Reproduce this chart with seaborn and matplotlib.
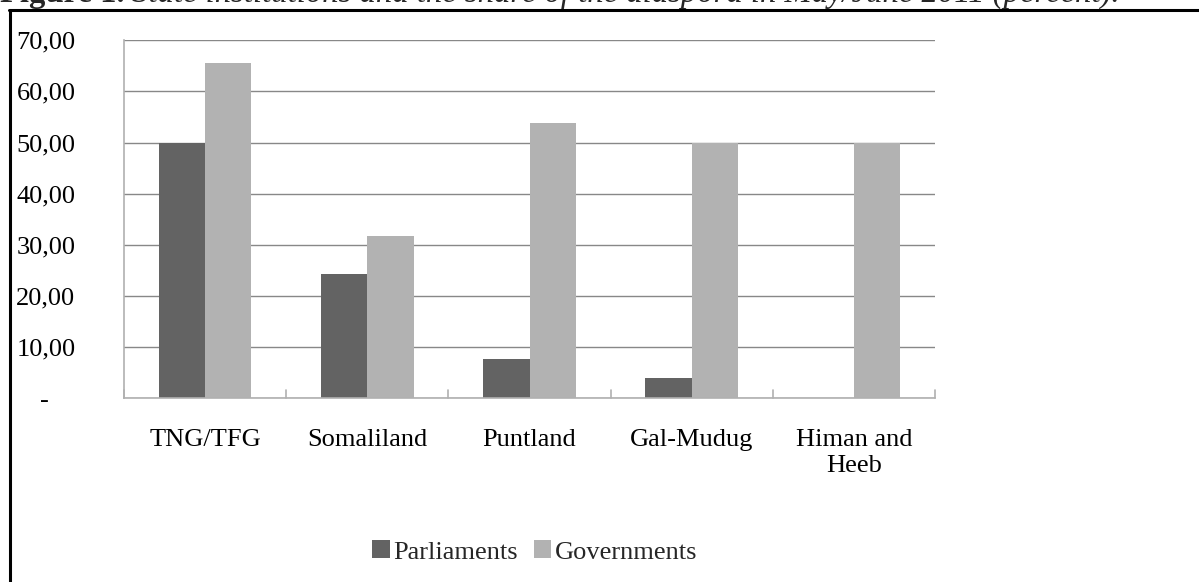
import matplotlib
matplotlib.use("Agg")
import matplotlib.pyplot as plt
import seaborn as sns
import pandas as pd
from matplotlib.lines import Line2D
from matplotlib.patches import Patch

regions = ["TNG/TFG", "Somaliland", "Puntland", "Gal-Mudug", "Himan and Heeb"]
region_labels = ["TNG/TFG", "Somaliland", "Puntland", "Gal-Mudug", "Himan and\nHeeb"]
parliaments = [50.0, 24.3, 7.6, 3.9, 0.0]
governments = [65.5, 31.7, 53.8, 50.0, 50.0]
series_names = ["Parliaments", "Governments"]
y_ticks = [0, 10, 20, 30, 40, 50, 60, 70]
y_tick_labels = ["-    ", "10,00", "20,00", "30,00", "40,00", "50,00", "60,00", "70,00"]

colors = ["#636363", "#b2b2b2"]

df = pd.DataFrame({
    "Region": regions * 2,
    "Value": parliaments + governments,
    "Series": [series_names[0]] * len(regions) + [series_names[1]] * len(regions),
})

sns.set_theme(style="white")
plt.rcParams["font.family"] = ["Liberation Serif", "DejaVu Serif"]

W, H = 1199, 582
fig = plt.figure(figsize=(W / 100, H / 100), dpi=100)
ax = fig.add_axes([124 / W, 1 - 398.3 / H, (935 - 124) / W, (398.3 - 40.3) / H])

sns.barplot(data=df, x="Region", y="Value", hue="Series", palette=colors,
            width=0.57, saturation=1, errorbar=None, ax=ax, legend=False,
            linewidth=0)

ax.set_xlim(-0.5, len(regions) - 0.5)
ax.set_ylim(0, 70)
ax.set_yticks(y_ticks)
ax.set_yticklabels(y_tick_labels)
ax.set_xticks(range(len(regions)))
ax.set_xticklabels(region_labels, linespacing=1.25)
ax.set_xlabel("")
ax.set_ylabel("")

ax.yaxis.grid(True, color="#888888", linewidth=1.0)
ax.set_axisbelow(True)
ax.xaxis.grid(False)

for side in ["top", "right"]:
    ax.spines[side].set_visible(False)
for side in ["left", "bottom"]:
    ax.spines[side].set_visible(True)
    ax.spines[side].set_color("#b0b0b0")
    ax.spines[side].set_linewidth(1.2)

ax.tick_params(axis="y", length=0, pad=35, labelsize=19, colors="black")
ax.tick_params(axis="x", length=0, pad=22, labelsize=19, colors="black")

# category boundary ticks (inward)
for b in range(len(regions) + 1):
    ax.plot([b - 0.5, b - 0.5], [0, 1.6], color="#b0b0b0", linewidth=1.2,
            clip_on=False, zorder=3)

# legend
handles = [Patch(facecolor=colors[i], edgecolor="none", label=series_names[i])
           for i in range(2)]
fig.legend(handles=handles, loc="center", bbox_to_anchor=(535 / W, 1 - 552 / H),
           ncol=2, frameon=False, fontsize=19, handlelength=0.65, handleheight=0.65,
           handletextpad=0.15, columnspacing=0.6)

# frame border lines
fig.add_artist(Line2D([9 / W, 1.0], [1 - 10 / H, 1 - 10 / H], color="black",
                      linewidth=2.2, transform=fig.transFigure))
fig.add_artist(Line2D([9.5 / W, 9.5 / W], [0, 1 - 10 / H], color="black",
                      linewidth=2.2, transform=fig.transFigure))

# clipped title line at top
t1 = fig.text(0 / W, 1 - 2 / H, "Figure 1.", fontsize=23.5, fontweight="bold",
              ha="left", va="baseline")
fig.canvas.draw()
bb = t1.get_window_extent()
fig.text(bb.x1 / W + 7 / W, 1 - 2 / H,
         "State institutions and the share of the diaspora in May/June 2011 (percent).",
         fontsize=23.5, fontstyle="italic", ha="left", va="baseline")

fig.savefig("out.png", dpi=100)
